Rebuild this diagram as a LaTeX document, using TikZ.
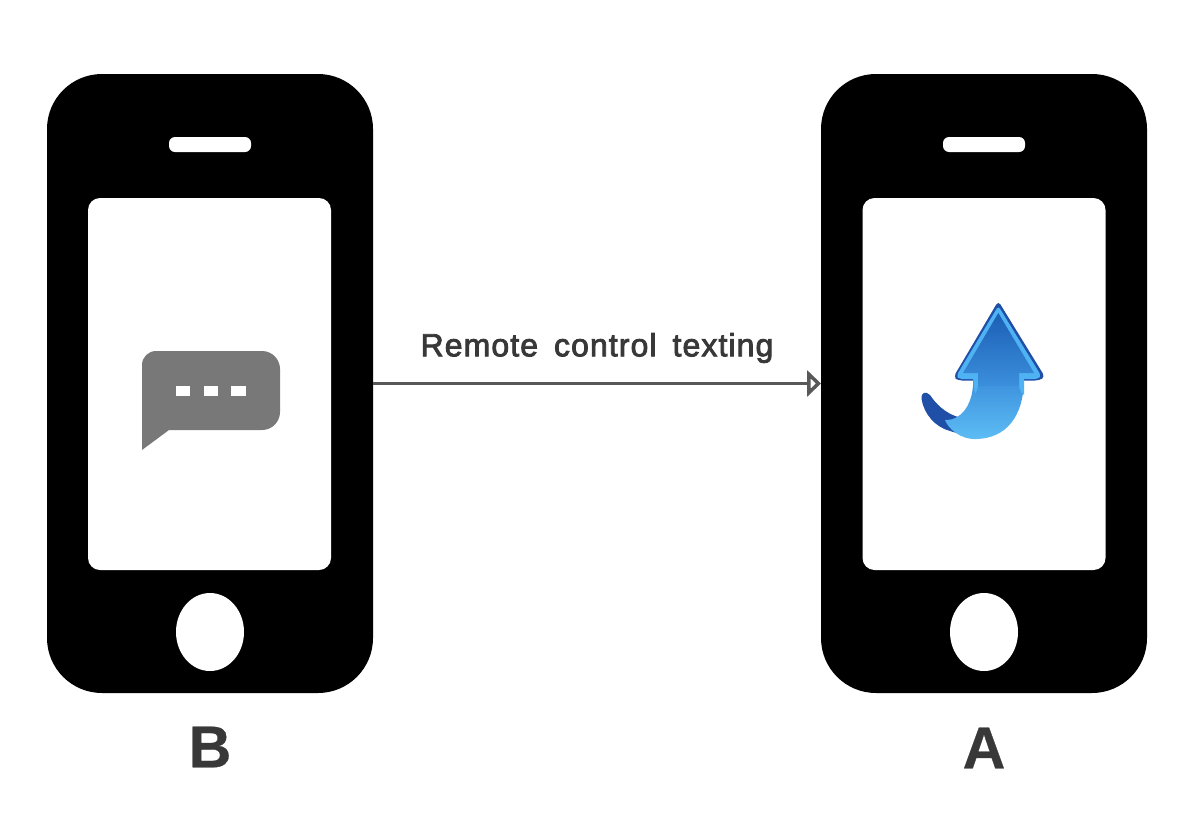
\documentclass[tikz,border=0pt]{standalone}
\usepackage{fontspec}
\setmainfont{Liberation Sans}
\newfontfamily\msgfont[FakeBold=2.6,LetterSpace=3.4,WordSpace=1.6]{Liberation Sans}
\newfontfamily\bigfont[FakeBold=0.5]{Liberation Sans Bold}
\usetikzlibrary{arrows.meta,shapes.geometric,positioning}
\definecolor{txt}{HTML}{383838}
\definecolor{connc}{HTML}{585858}
\definecolor{bub}{HTML}{787878}
\definecolor{arrdark}{HTML}{1F4FA6}
\definecolor{arrlight}{HTML}{4FB2F2}
\definecolor{gradtop}{HTML}{1C5FB5}
\definecolor{gradmid}{HTML}{3B8FDC}
\definecolor{gradbot}{HTML}{5DBDF4}
\tikzset{
 body/.style={draw=none,fill=black,rounded corners=55pt,minimum width=326pt,minimum height=619pt,inner sep=0pt,outer sep=0pt},
 screen/.style={draw=none,fill=white,rounded corners=12pt,minimum width=243pt,minimum height=372pt,inner sep=0pt},
 speaker/.style={draw=none,fill=white,rounded corners=6pt,minimum width=82pt,minimum height=15pt,inner sep=0pt},
 homekey/.style={ellipse,draw=none,fill=white,minimum width=68pt,minimum height=78pt,inner sep=0pt},
 dotbox/.style={draw=none,fill=white,minimum width=14.5pt,minimum height=10pt,inner sep=0pt},
 connline/.style={draw=connc,line width=3pt,-{Triangle[open,length=14pt,width=26pt,line width=3.5pt,fill=white]}},
 biglabel/.style={text=txt,font=\bigfont\fontsize{59}{59}\selectfont,inner sep=0pt},
 msglabel/.style={text=txt,font=\msgfont\fontsize{32}{36}\selectfont,inner sep=0pt}
}
\begin{document}
\begin{tikzpicture}[x=1pt,y=-1pt]
\useasboundingbox (0,0) rectangle (1204,830);
\fill[white] (0,0) rectangle (1204,830);
% phones
\node[body] (B) at (210,383.5) {};
\node[screen] (Bs) at (209.5,384) {};
\node[speaker] (Bk) at (210,144.5) {};
\node[homekey] (Bh) at (210,632) {};
\node[body] (A) at (984,383.5) {};
\node[screen] (As) at (984,384) {};
\node[speaker] (Ak) at (984,144.5) {};
\node[homekey] (Ah) at (984,632) {};
% bubble
\fill[bub] (142,450) -- (142,365) arc[start angle=180,end angle=270,radius=14] -- (262,351)
  arc[start angle=-90,end angle=0,radius=18] -- (280,412)
  arc[start angle=0,end angle=90,radius=18] -- (169,430) -- cycle;
\node[dotbox] (d1) at (183,390.5) {};
\node[dotbox] (d2) at (211,390.5) {};
\node[dotbox] (d3) at (238.5,390.5) {};
% up arrow: tail
\fill[arrdark] (921.5,399) .. controls (921,392) and (926,391) .. (930,395)
  .. controls (936,404) and (945,413) .. (958,417) -- (960,434) -- (950,431)
  .. controls (935,427) and (924,414) .. (921.5,399) -- cycle;
% stem
\shade[top color=gradmid,bottom color=gradbot]
  (973,378) .. controls (974,395) and (968,411) .. (957,417)
  .. controls (954,419) and (950,420) .. (945,420)
  .. controls (948,428) and (960,440) .. (977,439)
  .. controls (1005,438) and (1024,418) .. (1024,378) -- cycle;
% head
\fill[arrdark,rounded corners=4pt] (998.3,301) -- (1045,377) -- (1039,380.5) -- (958,380.5) -- (953.5,377) -- cycle;
\fill[arrlight,rounded corners=3pt] (998.3,306) -- (1041,375.5) -- (1038,379) -- (959,379) -- (956.5,375.5) -- cycle;
\fill[arrlight] (973,378) -- (1024,378) -- (1024,395) .. controls (1020,392) and (1019,388) .. (1019,383) -- (978,383) .. controls (978,388) and (977,391) .. (975,394) -- cycle;
\shade[top color=gradtop,bottom color=gradmid] (998.3,313) -- (1034,373) -- (1019,373) -- (1019,386) -- (978,386) -- (978,373) -- (963,373) -- cycle;
% labels
\node[msglabel] (msg) at (597,348) {Remote control texting};
\node[biglabel] (lb) at (210,747) {B};
\node[biglabel] (la) at (984,748) {A};
% connector
\draw[connline] (B.east) -- (A.west);
\end{tikzpicture}
\end{document}
